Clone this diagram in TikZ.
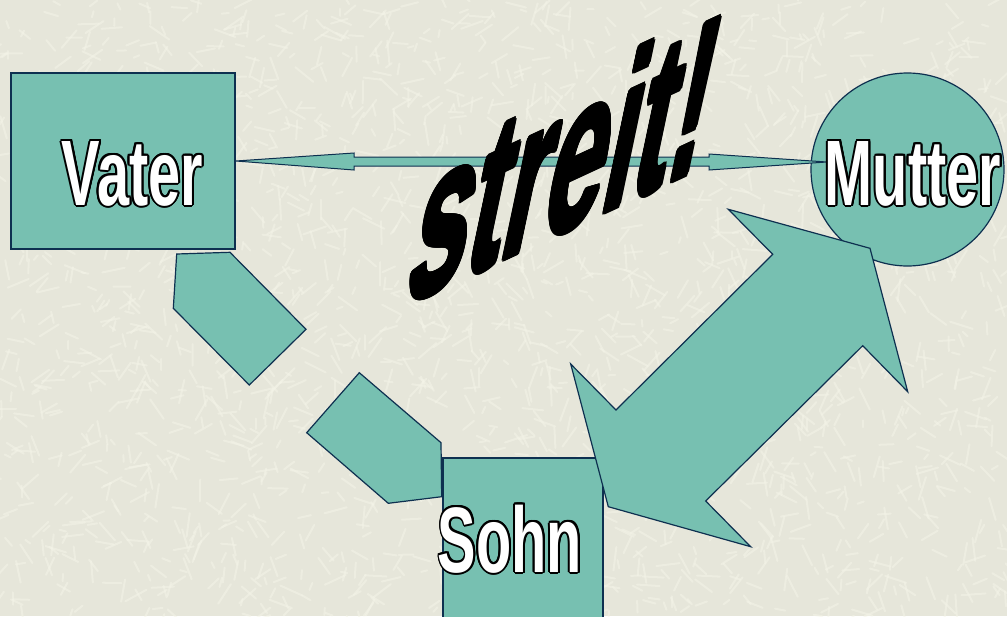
\documentclass[tikz,border=0pt]{standalone}
\usepackage{fontspec}
\setmainfont{Liberation Sans}
\newfontfamily\labelfont[FakeStretch=0.62]{Liberation Sans}

\definecolor{paper}{RGB}{230,230,218}
\definecolor{scratch}{RGB}{244,244,232}
\definecolor{boxfill}{RGB}{119,192,177}
\definecolor{boxline}{RGB}{14,48,80}

% a ring of shifted copies of #2 at distance #1, in the current colour
\newcommand{\shifted}[3]{\rlap{\hspace*{#1}\raisebox{#2}{#3}}}
\newcommand{\ring}[2]{%
  \shifted{#1pt}{0pt}{#2}\shifted{-#1pt}{0pt}{#2}%
  \shifted{0pt}{#1pt}{#2}\shifted{0pt}{-#1pt}{#2}%
  \shifted{0.707\dimexpr#1pt\relax}{0.707\dimexpr#1pt\relax}{#2}%
  \shifted{-0.707\dimexpr#1pt\relax}{0.707\dimexpr#1pt\relax}{#2}%
  \shifted{0.707\dimexpr#1pt\relax}{-0.707\dimexpr#1pt\relax}{#2}%
  \shifted{-0.707\dimexpr#1pt\relax}{-0.707\dimexpr#1pt\relax}{#2}%
  \shifted{0.924\dimexpr#1pt\relax}{0.383\dimexpr#1pt\relax}{#2}%
  \shifted{-0.924\dimexpr#1pt\relax}{0.383\dimexpr#1pt\relax}{#2}%
  \shifted{0.924\dimexpr#1pt\relax}{-0.383\dimexpr#1pt\relax}{#2}%
  \shifted{-0.924\dimexpr#1pt\relax}{-0.383\dimexpr#1pt\relax}{#2}%
  \shifted{0.383\dimexpr#1pt\relax}{0.924\dimexpr#1pt\relax}{#2}%
  \shifted{-0.383\dimexpr#1pt\relax}{0.924\dimexpr#1pt\relax}{#2}%
  \shifted{0.383\dimexpr#1pt\relax}{-0.924\dimexpr#1pt\relax}{#2}%
  \shifted{-0.383\dimexpr#1pt\relax}{-0.924\dimexpr#1pt\relax}{#2}}
% white letters with a black rim
\newcommand{\outlined}[1]{\leavevmode{\color{black}\ring{2}{#1}}{\color{white}#1}}
% extra heavy black letters
\newcommand{\heavy}[1]{\leavevmode\ring{3}{#1}\ring{1.5}{#1}#1}

\tikzset{
  shapebox/.style={draw=boxline, fill=boxfill, line width=1.2pt, inner sep=0pt},
  blockarrow/.style={draw=boxline, fill=boxfill, line width=1.2pt, line join=miter},
  namelabel/.style={font=\labelfont\bfseries\fontsize{93}{93}\selectfont, inner sep=0pt, anchor=base}
}

\begin{document}
\begin{tikzpicture}[x=1pt, y=-1pt]
  \useasboundingbox (0,0) rectangle (1007,616);
  \clip (0,0) rectangle (1007,616);

  % textured paper
  \fill[paper] (0,0) rectangle (1007,616);
  \pgfmathsetseed{7}
  \foreach \i in {1,...,2200} {
    \pgfmathsetmacro{\px}{rnd*1007}
    \pgfmathsetmacro{\py}{rnd*616}
    \pgfmathsetmacro{\pa}{rnd*360}
    \pgfmathsetmacro{\pl}{6+rnd*18}
    \draw[scratch, line width=2pt, line cap=round, opacity=0.55]
      (\px,\py) -- ++(\pa:\pl);
  }

  % the three family members
  \node[shapebox, minimum width=224pt, minimum height=176pt] (vater) at (123,161) {};
  \node[shapebox, circle, minimum size=193pt] (mutter) at (907.5,169.5) {};
  \node[shapebox, minimum width=160pt, minimum height=190pt] (sohn) at (523,553) {};

  % thin double arrow between Vater and Mutter
  \coordinate (vtip) at (vater.east);
  \coordinate (mtip) at (827,162);
  \draw[blockarrow, line width=1pt]
    (vtip) -- (354,153) -- (354,157) -- (709,157) -- (709,154) -- (mtip)
    -- (709,170) -- (709,166) -- (354,166) -- (354,170) -- cycle;

  % broken arrow between Vater and Sohn
  \draw[blockarrow] (176.7,254) -- (230,252.3) -- (306,329.3) -- (249.3,385) -- (173.3,308.3) -- cycle;
  \draw[blockarrow] (359.3,372.7) -- (441,442.7) -- (441.7,496.7) -- (388.3,503.3) -- (306.7,432.7) -- cycle;

  % big double arrow between Mutter and Sohn
  \draw[blockarrow] (728.3,209.3) -- (870,248.3) -- (907.7,391.7) -- (862.7,345.7)
    -- (705.7,501) -- (750.7,546.7) -- (608.3,506.7) -- (570.7,364)
    -- (616,410) -- (772.7,254.3) -- cycle;

  % slanted headline
  \begin{scope}[shift={(402,306)}, cm={0.56,0.26,0.25,1.19,(0,0)}]
    \node[transform shape, inner sep=0pt, anchor=base west,
          font=\bfseries\fontsize{190}{190}\selectfont] (streit) at (0,0)
      {\heavy{streit!}};
  \end{scope}

  % names
  \node[namelabel] (vatertext) at (132.5,205) {\outlined{Vater}};
  \node[namelabel] (muttertext) at (913,205) {\outlined{Mutter}};
  \node[namelabel] (sohntext) at (510,572) {\outlined{Sohn}};
\end{tikzpicture}
\end{document}
